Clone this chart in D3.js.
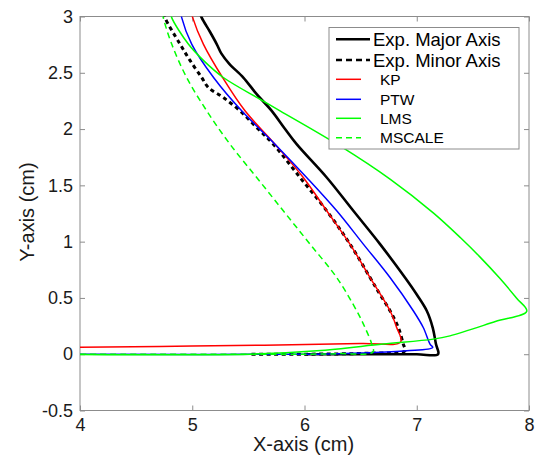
<!DOCTYPE html>
<html>
<head>
<meta charset="utf-8">
<script src="https://cdn.jsdelivr.net/npm/d3@7"></script>
<style>
  body { margin: 0; background: #fff; }
  svg { font-family: "Liberation Sans", Arial, Helvetica, sans-serif; }
</style>
</head>
<body>
<svg id="chart" width="535" height="456"></svg>
<script>
// values, [x, y] in cm
const expMajor = [[5.07,3.03],[5.084,2.99],[5.16,2.86],[5.218,2.755],[5.26,2.67],[5.33,2.58],[5.455,2.458],
    [5.574,2.31],[5.708,2.162],[5.82,2.01],[5.93,1.866],[6.198,1.57],[6.435,1.274],[6.673,0.978],[6.895,0.681],
    [7.00,0.53],[7.089,0.386],[7.142,0.237],[7.171,0.09],[7.19,0.0],[7.0,0.0],[6.5,0.0],[6.0,0.0]];
const expMinor = [[4.75,3.03],[4.757,2.99],[4.891,2.755],[4.98,2.61],[5.084,2.458],[5.143,2.37],[5.277,2.28],
    [5.425,2.162],[5.574,2.014],[5.722,1.866],[5.96,1.57],[6.198,1.274],[6.405,0.978],[6.584,0.681],[6.673,0.53],
    [6.762,0.386],[6.836,0.237],[6.88,0.09],[6.895,0.03],[6.6,0.01],[6.0,0.0],[5.5,0.0]];
const kp = [[4.995,3.03],[5.004,2.99],[5.099,2.755],[5.27,2.458],[5.47,2.162],[5.737,1.866],[5.989,1.57],
    [6.198,1.274],[6.405,0.978],[6.584,0.681],[6.762,0.386],[6.821,0.237],[6.857,0.11],
    [6.5,0.095],[5.0,0.072],[4.0,0.062],[3.9,0.06]];
const ptw = [[4.90,3.03],[4.906,2.99],[4.995,2.755],[5.19,2.458],[5.44,2.162],[5.737,1.866],[6.019,1.57],
    [6.287,1.274],[6.524,0.978],[6.762,0.681],[6.969,0.386],[7.058,0.237],[7.118,0.09],[7.142,0.06],
    [6.91,0.03],[6.5,0.01],[6.11,0.0],[4.0,0.0],[3.9,0.0]];
const lms = [[4.81,3.03],[4.817,2.99],[4.965,2.755],[5.099,2.61],[5.277,2.458],[5.604,2.265],[5.782,2.162],
    [6.316,1.85],[6.762,1.555],[7.147,1.255],[7.39,1.034],[7.56,0.867],[7.74,0.674],[7.89,0.497],[7.98,0.382],
    [7.70,0.29],[7.296,0.163],[7.147,0.134],[6.70,0.09],[6.11,0.03],[5.51,0.0],[4.0,-0.003],[3.9,-0.003]];
const mscale = [[4.737,3.03],[4.742,2.99],[4.817,2.755],[4.95,2.458],[5.129,2.162],[5.336,1.866],[5.574,1.57],
    [5.811,1.274],[6.049,0.978],[6.287,0.681],[6.465,0.386],[6.539,0.237],[6.599,0.09],[6.61,0.02],
    [6.3,0.005],[6.0,0.0],[4.0,0.0],[3.9,0.0]];

const xTicks = [4, 5, 6, 7, 8];
const yTicks = [-0.5, 0, 0.5, 1, 1.5, 2, 2.5, 3];

const series = [
    {name: 'Exp. Major Axis', data: expMajor, color: '#000', width: 2.6, dash: null, big: true},
    {name: 'Exp. Minor Axis', data: expMinor, color: '#000', width: 3, dash: '4,3.5', big: true},
    {name: 'KP', data: kp, color: '#ff0000', width: 1.5, dash: null},
    {name: 'PTW', data: ptw, color: '#0000ff', width: 1.5, dash: null},
    {name: 'LMS', data: lms, color: '#00ff00', width: 1.5, dash: null},
    {name: 'MSCALE', data: mscale, color: '#00ff00', width: 1.5, dash: '6,4'}
];

const svg = d3.select('#chart');
const margin = {top: 16.5, right: 6, bottom: 45.5, left: 80};
const width = 535, height = 456;
const innerWidth = width - margin.left - margin.right;
const innerHeight = height - margin.top - margin.bottom;

const xScale = d3.scaleLinear().domain([4, 8]).range([0, innerWidth]);
const yScale = d3.scaleLinear().domain([-0.5, 3]).range([innerHeight, 0]);

const g = svg.append('g').attr('transform', 'translate(' + margin.left + ',' + margin.top + ')');

svg.append('defs').append('clipPath').attr('id', 'clip')
    .append('rect').attr('width', innerWidth).attr('height', innerHeight);

const axisColor = '#8c8c8c';
const fmt = v => String(v);

const styleAxis = (sel, labels) => {
    sel.select('.domain').remove();
    sel.selectAll('.tick line').attr('stroke', axisColor);
    if (labels) {
        sel.selectAll('.tick text').attr('fill', '#1a1a1a').style('font-size', '18px');
    } else {
        sel.selectAll('.tick text').remove();
    }
};

g.append('g').attr('transform', 'translate(0,' + innerHeight + ')')
    .call(d3.axisBottom(xScale).tickValues(xTicks).tickFormat(fmt).tickSizeInner(-5).tickPadding(8))
    .call(s => styleAxis(s, true));
g.append('g')
    .call(d3.axisTop(xScale).tickValues(xTicks).tickSizeInner(-5))
    .call(s => styleAxis(s, false));
g.append('g')
    .call(d3.axisLeft(yScale).tickValues(yTicks).tickFormat(fmt).tickSizeInner(-5).tickPadding(7))
    .call(s => styleAxis(s, true));
g.append('g').attr('transform', 'translate(' + innerWidth + ',0)')
    .call(d3.axisRight(yScale).tickValues(yTicks).tickSizeInner(-5))
    .call(s => styleAxis(s, false));

g.append('rect').attr('width', innerWidth).attr('height', innerHeight)
    .attr('fill', 'none').attr('stroke', axisColor).attr('stroke-width', 1);

const plot = g.append('g').attr('clip-path', 'url(#clip)');

const line = d3.line()
    .x(d => xScale(d[0]))
    .y(d => yScale(d[1]))
    .curve(d3.curveCatmullRom.alpha(0.5));

series.forEach(s => {
    plot.append('path')
        .datum(s.data)
        .attr('d', line)
        .attr('fill', 'none')
        .attr('stroke', s.color)
        .attr('stroke-width', s.width)
        .attr('stroke-dasharray', s.dash)
        .attr('stroke-linejoin', 'round');
});

// axis titles
svg.append('text')
    .attr('x', margin.left + innerWidth / 2 - 1).attr('y', 451)
    .attr('text-anchor', 'middle').style('font-size', '20px').attr('fill', '#1a1a1a')
    .text('X-axis (cm)');
svg.append('text')
    .attr('transform', 'translate(34,212) rotate(-90)')
    .attr('text-anchor', 'middle').style('font-size', '20px').attr('fill', '#1a1a1a')
    .text('Y-axis (cm)');

// legend
const legend = svg.append('g').attr('transform', 'translate(329,27.5)');
legend.append('rect').attr('width', 190).attr('height', 121.5)
    .attr('fill', '#fff').attr('stroke', axisColor).attr('stroke-width', 1);
const rowY = [11.8, 32.5, 51.8, 71.8, 90.8, 110.2];
series.forEach((s, i) => {
    const row = legend.append('g').attr('transform', 'translate(0,' + rowY[i] + ')');
    row.append('line')
        .attr('x1', 7).attr('x2', s.big ? 41 : 32)
        .attr('stroke', s.color).attr('stroke-width', s.big ? 2.6 : 1.5)
        .attr('stroke-dasharray', s.big && s.dash ? '6,4' : s.dash);
    row.append('text')
        .attr('x', s.big ? 44 : 51).attr('dy', '0.36em')
        .style('font-size', s.big ? '18.5px' : '15.5px').attr('fill', '#000')
        .text(s.name);
});
</script>
</body>
</html>
